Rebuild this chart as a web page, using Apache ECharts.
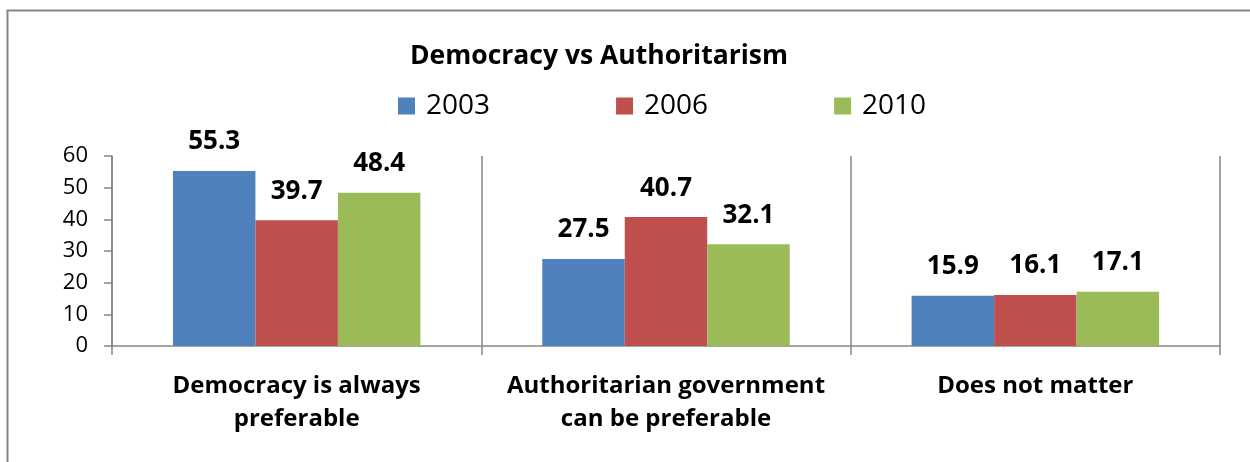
<!DOCTYPE html>
<html>
<head>
<meta charset="utf-8">
<script src="https://cdn.jsdelivr.net/npm/echarts@6/dist/echarts.min.js"></script>
<style>html,body{margin:0;padding:0;background:#fff;}#c{width:1250px;height:462px;}</style>
</head>
<body>
<div id="c"></div>
<script>
const categories = ['Democracy is always\npreferable', 'Authoritarian government\ncan be preferable', 'Does not matter'];
const seriesNames = ['2003', '2006', '2010'];
const values2003 = [55.3, 27.5, 15.9];
const values2006 = [39.7, 40.7, 16.1];
const values2010 = [48.4, 32.1, 17.1];
const colors = ['#4F81BD', '#C0504D', '#9BBB59'];
const FONT = '"Open Sans", sans-serif';

const chart = echarts.init(document.getElementById('c'), null, {renderer: 'canvas'});
const seriesData = [values2003, values2006, values2010];
chart.setOption({
  animation: false,
  color: colors,
  graphic: [{
    type: 'rect', shape: {x: 7.5, y: 10.5, width: 1300, height: 500},
    style: {fill: 'none', stroke: '#868686', lineWidth: 2}, silent: true
  }],
  title: {
    text: 'Democracy vs Authoritarism', left: 594, top: 38, textAlign: 'center',
    textStyle: {fontFamily: FONT, fontSize: 26.5, fontWeight: 'bold', color: '#000'}
  },
  legend: {
    data: seriesNames, top: 87, left: 393, itemWidth: 17, itemHeight: 17, itemGap: 126,
    icon: 'rect',
    textStyle: {fontFamily: FONT, fontSize: 28, color: '#000', padding: [0, 0, 0, 6]}
  },
  grid: {left: 112, right: 30, top: 156, bottom: 116, containLabel: false},
  xAxis: {
    type: 'category', data: categories,
    axisLine: {lineStyle: {color: '#868686', width: 1.5}},
    axisTick: {show: true, length: 9, interval: 0, lineStyle: {color: '#868686', width: 1.5}},
    splitLine: {show: true, interval: 0, lineStyle: {color: '#868686', width: 1.5}},
    axisLabel: {interval: 0, fontFamily: FONT, fontSize: 24, fontWeight: 'bold', color: '#000', lineHeight: 33, margin: 24}
  },
  yAxis: {
    type: 'value', min: 0, max: 60, interval: 10,
    axisLine: {show: true, lineStyle: {color: '#868686', width: 1.5}},
    axisTick: {show: true, length: 8, lineStyle: {color: '#868686', width: 1.5}},
    splitLine: {show: false},
    axisLabel: {fontFamily: FONT, fontSize: 22, color: '#000', margin: 24}
  },
  series: seriesData.map((d, i) => ({
    name: seriesNames[i], type: 'bar', data: d, barGap: '0%', barCategoryGap: '33%',
    itemStyle: {color: colors[i]},
    label: {show: true, position: 'top', distance: 16, fontFamily: FONT, fontSize: 26, fontWeight: 'bold', color: '#000'}
  }))
});
</script>
</body>
</html>
